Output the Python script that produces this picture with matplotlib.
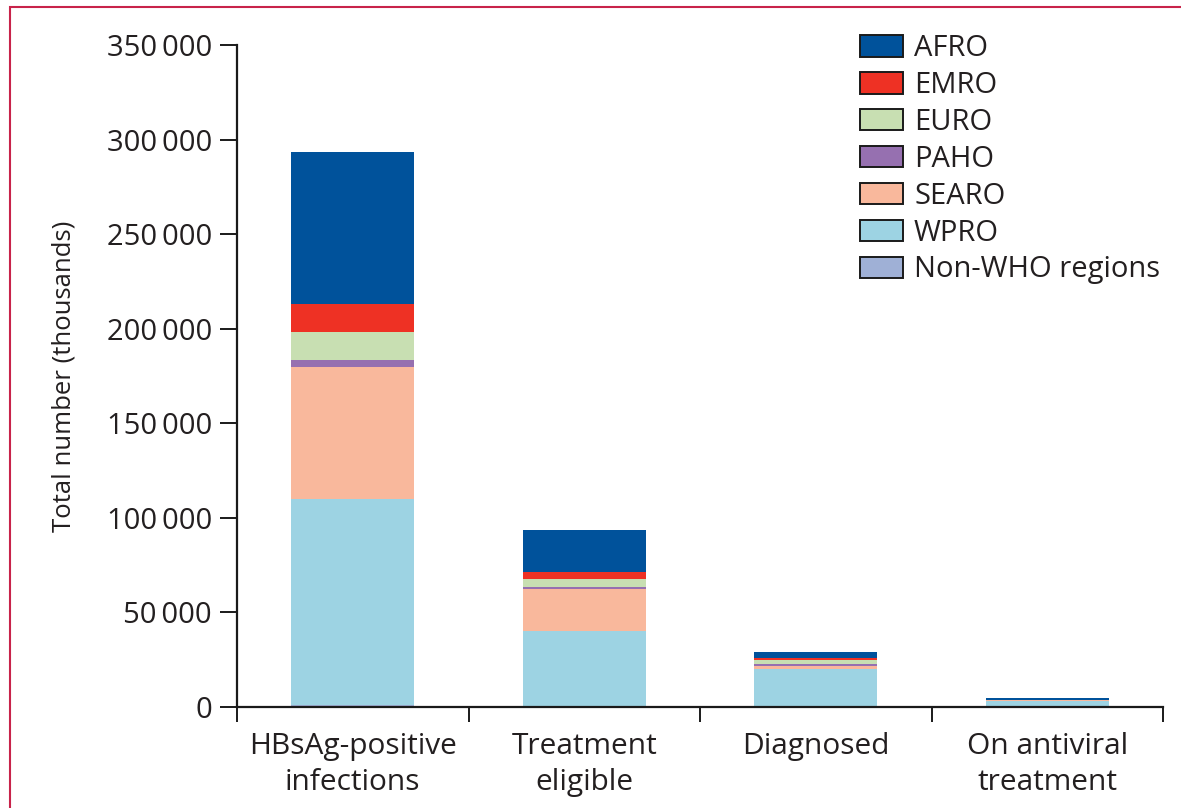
import matplotlib
matplotlib.use("Agg")
import matplotlib.pyplot as plt
from matplotlib.patches import Rectangle, Patch
from matplotlib.ticker import FixedLocator, FuncFormatter
import numpy as np

plt.rcParams['font.family'] = ['Open Sans', 'DejaVu Sans']

categories = ["HBsAg-positive\ninfections", "Treatment\neligible", "Diagnosed", "On antiviral\ntreatment"]
regions = ["AFRO", "EMRO", "EURO", "PAHO", "SEARO", "WPRO", "Non-WHO regions"]

# values in thousands, stacked bottom to top: Non-WHO, WPRO, SEARO, PAHO, EURO, EMRO, AFRO
non_who = [1000, 300, 100, 20]
wpro = [109000, 39900, 20000, 3300]
searo = [70000, 22000, 1800, 150]
paho = [3200, 1400, 1000, 50]
euro = [14800, 4000, 1700, 100]
emro = [15300, 3600, 1100, 50]
afro = [80000, 22400, 3500, 1000]

colors = {
    "AFRO": "#00529b",
    "EMRO": "#ee3124",
    "EURO": "#c8dfb2",
    "PAHO": "#9670b0",
    "SEARO": "#f9b89c",
    "WPRO": "#9dd3e3",
    "Non-WHO regions": "#9fb0d6",
}

stack_order = [("Non-WHO regions", non_who), ("WPRO", wpro), ("SEARO", searo),
               ("PAHO", paho), ("EURO", euro), ("EMRO", emro), ("AFRO", afro)]

text_color = "#231f20"

fig = plt.figure(figsize=(11.81, 8.08), dpi=100)
ax = fig.add_axes([237/1181, 1-707/808, (1163-237)/1181, (707-45)/808])

x = np.arange(len(categories))
bottom = np.zeros(len(categories))
for name, vals in stack_order:
    ax.bar(x, vals, width=0.53, bottom=bottom, color=colors[name], edgecolor='none', zorder=2)
    bottom += np.array(vals)

ax.set_xlim(-0.5, 3.5)
ax.set_ylim(0, 350000)

ax.spines['top'].set_visible(False)
ax.spines['right'].set_visible(False)
for s in ['left', 'bottom']:
    ax.spines[s].set_linewidth(1.6)
    ax.spines[s].set_color('#1a1a1a')

ax.yaxis.set_major_locator(FixedLocator(np.arange(0, 350001, 50000)))
ax.yaxis.set_major_formatter(FuncFormatter(lambda v, p: "0" if v == 0 else f"{int(v):,}".replace(",", "\u2009")))
ax.tick_params(axis='y', length=12, width=1.4, color='#1a1a1a', pad=6, labelsize=21, labelcolor=text_color)

ax.set_xticks(x)
ax.set_xticklabels(categories, fontsize=21.5, color=text_color, linespacing=1.3)
ax.tick_params(axis='x', which='major', length=0, pad=18)
ax.set_xticks(np.arange(-0.5, 3.6, 1.0), minor=True)
ax.tick_params(axis='x', which='minor', length=11, width=1.4, color='#1a1a1a', direction='out')

ax.set_ylabel("Total number (thousands)", fontsize=18.5, color=text_color, labelpad=22)

handles = [Patch(facecolor=colors[r], edgecolor='#1a1a1a', linewidth=1.4, label=r) for r in regions]
leg = ax.legend(handles=handles, loc='upper left', bbox_to_anchor=(0.660, 1.034), frameon=False,
                fontsize=21, handlelength=1.48, handleheight=0.75, handletextpad=0.38, labelspacing=0.27,
                borderaxespad=0)
for t in leg.get_texts():
    t.set_color(text_color)

# red frame
fig.patches.append(Rectangle((10/1181, -0.1), 1.2, 1 - 7/808 + 0.1, transform=fig.transFigure,
                             fill=False, edgecolor='#c8234a', linewidth=1.5, zorder=0))

fig.savefig("out.png", dpi=100)
